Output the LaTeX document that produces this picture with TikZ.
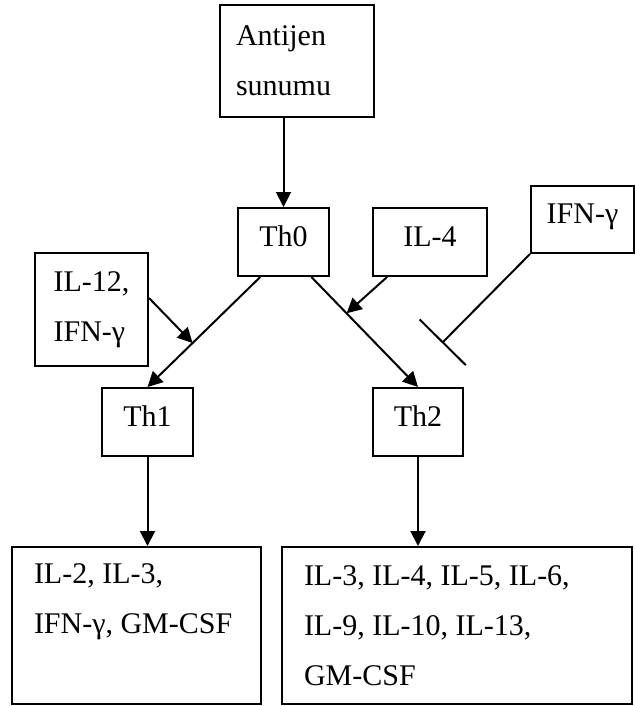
\documentclass[tikz,border=0pt]{standalone}
\usepackage{fontspec}
\setmainfont{Liberation Serif}
\usetikzlibrary{arrows.meta,calc}

\begin{document}
\begin{tikzpicture}[x=0.5pt, y=-0.5pt, line width=1pt,
	>={Triangle[length=7.5pt,width=7.5pt]},
	box/.style={draw, inner sep=0pt, font=\fontsize{15}{25}\selectfont},
	cell/.style={box, text height=11pt, text depth=7pt},
	txt/.style={inner sep=0pt, anchor=north west, align=left, font=\fontsize{15}{25}\selectfont}]
	\useasboundingbox (0, 0) rectangle (635, 706);

	\node[box, minimum width=77pt, minimum height=56pt, text width=61pt, align=left] (ant) at (297, 61) {Antijen\\sunumu};
	\node[cell, minimum width=45.5pt, minimum height=34pt] (th0) at (283.5, 242) {Th0};
	\node[cell, minimum width=57pt, minimum height=34pt] (il4) at (430, 242) {IL-4};
	\node[cell, minimum width=51.5pt, minimum height=33.5pt] (ifn) at (582.5, 219.5) {IFN-γ};
	\node[box, minimum width=56.5pt, minimum height=56.5pt, align=left] (il12) at (91.5, 309.5) {IL-12,\\IFN-γ};
	\node[cell, minimum width=45.5pt, minimum height=34pt] (th1) at (147.5, 422) {Th1};
	\node[cell, minimum width=45pt, minimum height=34pt] (th2) at (418, 422) {Th2};

	\node[box, minimum width=124.5pt, minimum height=78.5pt] (out1) at (136.5, 625.5) {};
	\node[box, minimum width=175pt, minimum height=78.5pt] (out2) at (457, 625.5) {};
	\node[txt] (out1txt) at (33, 563) {IL-2, IL-3,\\IFN-γ, GM-CSF};
	\node[txt] (out2txt) at (303, 565) {IL-3, IL-4, IL-5, IL-6,\\IL-9, IL-10, IL-13,\\GM-CSF};

	\coordinate (th0l) at ($(th0.south west)!0.25!(th0.south east)$);
	\coordinate (th0r) at ($(th0.south west)!0.8!(th0.south east)$);
	\coordinate (blk) at (442, 343);

	\draw[->] (th0.north |- ant.south) -- (th0.north);
	\draw[->] (th0l) -- (th1.north);
	\draw[->] (th0r) -- (th2.north);
	\draw[->] ($(il12.north east)!0.4!(il12.south east)$) -- ($(th0l)!0.6!(th1.north)$);
	\draw[->] ($(il4.south west)!0.13!(il4.south east)$) -- ($(th0r)!0.33!(th2.north)$);
	\draw[-{Bar[width=32.5pt]}] (ifn.south west) -- (blk);
	\draw[->] (th1.south) -- (th1.south |- out1.north);
	\draw[->] (th2.south) -- (th2.south |- out2.north);
\end{tikzpicture}
\end{document}
